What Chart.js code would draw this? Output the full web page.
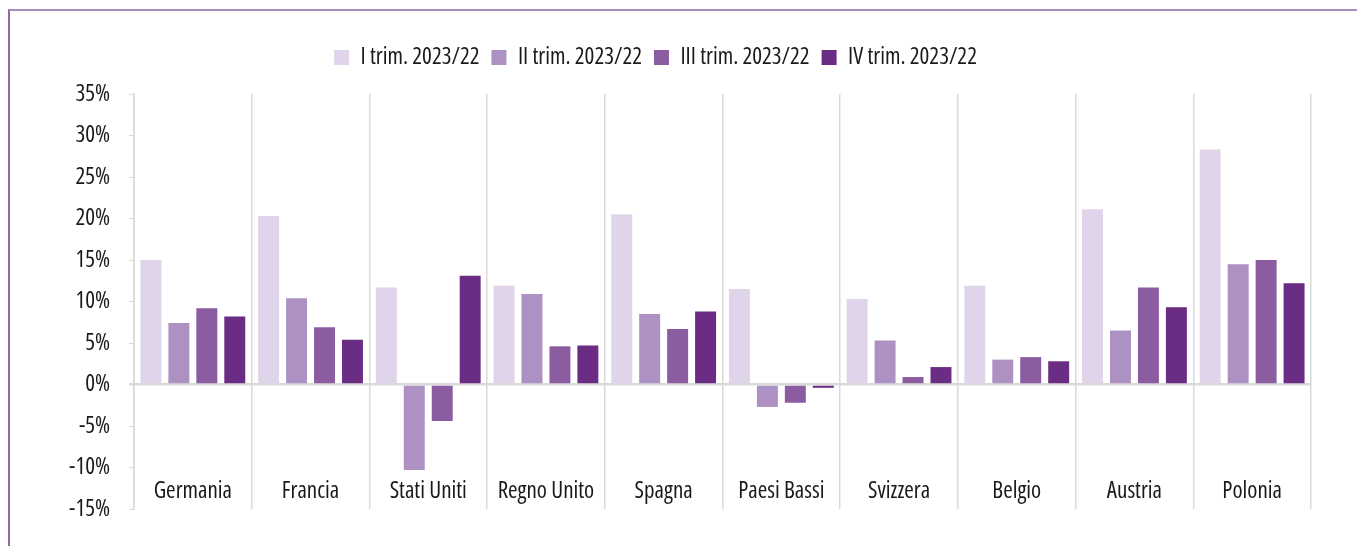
<!DOCTYPE html>
<html>
<head>
<meta charset="utf-8">
<script src="https://cdn.jsdelivr.net/npm/chart.js@4"></script>
<style>
  html, body { margin: 0; padding: 0; background: #fff; }
  .wrap { position: relative; width: 1357px; height: 546px; overflow: hidden; }
  .frame {
    position: absolute; left: 8px; top: 9px; width: 1400px; height: 600px;
    border-top: 2px solid #a68dbf; border-left: 2px solid #9466ac;
  }
  canvas { position: absolute; left: 0; top: 0; }
</style>
</head>
<body>
<div class="wrap">
  <div class="frame"></div>
  <canvas id="chart" width="1357" height="546"></canvas>
</div>
<script>
// chart data
const countries = ["Germania", "Francia", "Stati Uniti", "Regno Unito", "Spagna", "Paesi Bassi", "Svizzera", "Belgio", "Austria", "Polonia"];
const seriesNames = ["I trim. 2023/22", "II trim. 2023/22", "III trim. 2023/22", "IV trim. 2023/22"];
const trim1 = [15.0, 20.3, 11.7, 11.9, 20.5, 11.5, 10.3, 11.9, 21.1, 28.3];
const trim2 = [7.4, 10.4, -10.3, 10.9, 8.5, -2.7, 5.3, 3.0, 6.5, 14.5];
const trim3 = [9.2, 6.9, -4.4, 4.6, 6.7, -2.2, 0.9, 3.3, 11.7, 15.0];
const trim4 = [8.2, 5.4, 13.1, 4.7, 8.8, -0.4, 2.1, 2.8, 9.3, 12.2];
const yTicks = [-15, -10, -5, 0, 5, 10, 15, 20, 25, 30, 35];

const colors = ["#e0d4ea", "#ad91c2", "#8b5ca0", "#6b2d83"];
const gridGray = "#d9d9d9";
const textColor = "#1a1a1a";

// the original uses a narrow DIN-like face: pick the narrowest sans we really have
const pickFont = () => {
  const ctx = document.createElement("canvas").getContext("2d");
  const sample = "Germania 2023/22";
  const width = (f) => {
    ctx.font = f;
    return ctx.measureText(sample).width;
  };
  const candidates = [
    { weight: "normal ultra-condensed", family: "'Noto Sans'" },
    { weight: "normal extra-condensed", family: "'Noto Sans'" },
    { weight: "normal condensed", family: "'Noto Sans'" },
    { weight: "normal condensed", family: "'Open Sans'" },
    { weight: "normal condensed", family: "Roboto" },
    { weight: "normal", family: "'Liberation Sans Narrow'" },
  ];
  let best = { weight: "normal", family: "'DejaVu Sans Condensed'" };
  let bestWidth = width("normal 22px 'DejaVu Sans Condensed'");
  candidates.forEach((c) => {
    const w = width(c.weight + " 22px " + c.family + ", monospace");
    const missing = w === width(c.weight + " 22px monospace");
    const notNarrower = c.weight !== "normal" && w === width("normal 22px " + c.family + ", monospace");
    if (!missing && !notNarrower && w < bestWidth) {
      best = c;
      bestWidth = w;
    }
  });
  // target: "Germania 2023/22" is about 160px in the original
  const size = Math.max(19, Math.min(23, Math.round((22 * 160) / bestWidth)));
  return { family: best.family + ", sans-serif", weight: best.weight, size: size };
};
const font = pickFont();

const datasets = [trim1, trim2, trim3, trim4].map((values, i) => ({
  label: seriesNames[i],
  data: values,
  backgroundColor: colors[i],
  borderWidth: 0,
  categoryPercentage: 0.95,
  barPercentage: 0.75,
}));

// keep the legend block a fixed height so the plot starts at the 35% line
const legendHeight = {
  id: "legendHeight",
  beforeInit(chart) {
    const fit = chart.legend.fit;
    chart.legend.fit = function () {
      fit.call(this);
      this.height = 60;
    };
  },
};

new Chart(document.getElementById("chart").getContext("2d"), {
  type: "bar",
  data: { labels: countries, datasets: datasets },
  options: {
    responsive: false,
    animation: false,
    layout: { padding: { top: 34, right: 46, bottom: 37, left: 0 } },
    plugins: {
      legend: {
        position: "top",
        labels: {
          boxWidth: 15,
          boxHeight: 15,
          padding: 12,
          color: textColor,
          font: font,
        },
      },
      tooltip: { enabled: false },
    },
    scales: {
      x: {
        position: { y: -10 },
        grid: { offset: true, color: gridGray, lineWidth: 1.5, drawTicks: false },
        border: { display: false },
        ticks: {
          padding: 10,
          autoSkip: false,
          maxRotation: 0,
          color: textColor,
          font: font,
        },
      },
      y: {
        min: -15,
        max: 35,
        afterFit(scale) {
          scale.width = 134;
        },
        afterBuildTicks(scale) {
          scale.ticks = yTicks.map((v) => ({ value: v }));
        },
        grid: {
          color: (ctx) => (ctx.tick && ctx.tick.value === 0 ? gridGray : "rgba(0,0,0,0)"),
          lineWidth: (ctx) => (ctx.tick && ctx.tick.value === 0 ? 2.5 : 1),
          tickColor: gridGray,
          tickLength: 5,
        },
        border: { display: true, color: gridGray, width: 1.5 },
        ticks: {
          padding: 19,
          color: textColor,
          font: font,
          callback: (v) => v + "%",
        },
      },
    },
  },
  plugins: [legendHeight],
});
</script>
</body>
</html>
